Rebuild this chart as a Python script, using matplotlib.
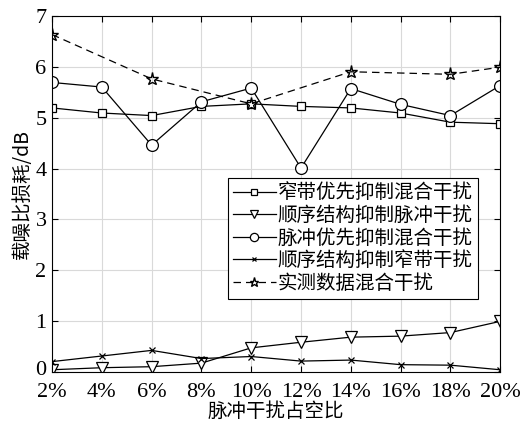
import matplotlib
matplotlib.use("Agg")
import matplotlib.pyplot as plt
import matplotlib.transforms as mtransforms

x = [2, 4, 6, 8, 10, 12, 14, 16, 18, 20]
xticklabels = ["2%", "4%", "6%", "8%", "10%", "12%", "14%", "16%", "18%", "20%"]

narrow_first = [5.19, 5.09, 5.04, 5.22, 5.27, 5.22, 5.19, 5.09, 4.91, 4.88]
seq_pulse = [0.05, 0.09, 0.11, 0.18, 0.48, 0.59, 0.69, 0.71, 0.78, 1.00]
pulse_first = [5.69, 5.60, 4.46, 5.31, 5.58, 4.01, 5.57, 5.26, 5.04, 5.63]
seq_narrow = [0.21, 0.32, 0.43, 0.27, 0.31, 0.22, 0.24, 0.15, 0.14, 0.05]
meas_x = [2, 6, 10, 14, 18, 20]
measured = [6.63, 5.76, 5.27, 5.90, 5.85, 5.99]

labels = ["窄带优先抑制混合干扰", "顺序结构抑制脉冲干扰", "脉冲优先抑制混合干扰",
          "顺序结构抑制窄带干扰", "实测数据混合干扰"]

serif = ["Liberation Serif", "DejaVu Serif"]
cjk = ["Noto Sans CJK SC", "DejaVu Sans"]

fig = plt.figure(figsize=(5.31, 4.25), dpi=100)
ax = fig.add_axes([0.098, 0.124, 0.844, 0.839])

lw = 0.9
ax.plot(x, narrow_first, color="black", lw=lw, marker="s", ms=6, mfc="white", mew=0.9, label=labels[0])
ax.plot(x, seq_pulse, color="black", lw=lw, marker="v", ms=8.5, mfc="white", mew=0.9, label=labels[1])
ax.plot(x, pulse_first, color="black", lw=lw, marker="o", ms=8.5, mfc="white", mew=0.9, label=labels[2])
ax.plot(x, seq_narrow, color="black", lw=lw, marker="x", ms=5, mew=0.9, label=labels[3])
ax.plot(meas_x, measured, color="black", lw=lw, ls=(0, (6, 4)), marker="*", ms=9.5, mfc="none", mew=1.0, label=labels[4])

ax.set_xlim(2, 20)
ax.set_ylim(0, 7)
ax.set_xticks(x)
ax.set_xticklabels(xticklabels, fontfamily=serif, fontsize=16)
ax.set_yticks(range(0, 8))
ax.set_yticklabels([str(i) for i in range(0, 8)], fontfamily=serif, fontsize=16)
ax.tick_params(direction="in", top=True, right=True, length=4, width=0.8)
ax.tick_params(axis="x", pad=8)
ax.tick_params(axis="y", pad=4)
ax.grid(True, color="#d9d9d9", lw=0.8)
ax.set_axisbelow(True)
for s in ax.spines.values():
    s.set_linewidth(0.8)

# lift the "0" label slightly so it does not collide with "2%"
zero_lbl = ax.get_yticklabels()[0]
zero_lbl.set_transform(zero_lbl.get_transform() +
                       mtransforms.ScaledTranslation(0, 3 / 72, fig.dpi_scale_trans))

ax.set_xlabel("脉冲干扰占空比", fontfamily=cjk, fontsize=14, labelpad=-1)
ax.set_ylabel("载噪比损耗/dB", fontfamily=cjk, fontsize=14, labelpad=2)

leg = ax.legend(loc="upper left", bbox_to_anchor=(0.393, 0.546), prop={"family": cjk, "size": 14},
                frameon=True, fancybox=False, edgecolor="black", framealpha=1,
                handlelength=2.2, handletextpad=0.1, labelspacing=0.08, borderpad=0.25,
                borderaxespad=0, markerscale=0.7)
leg.get_frame().set_linewidth(0.8)

fig.savefig("out.png", dpi=100)
